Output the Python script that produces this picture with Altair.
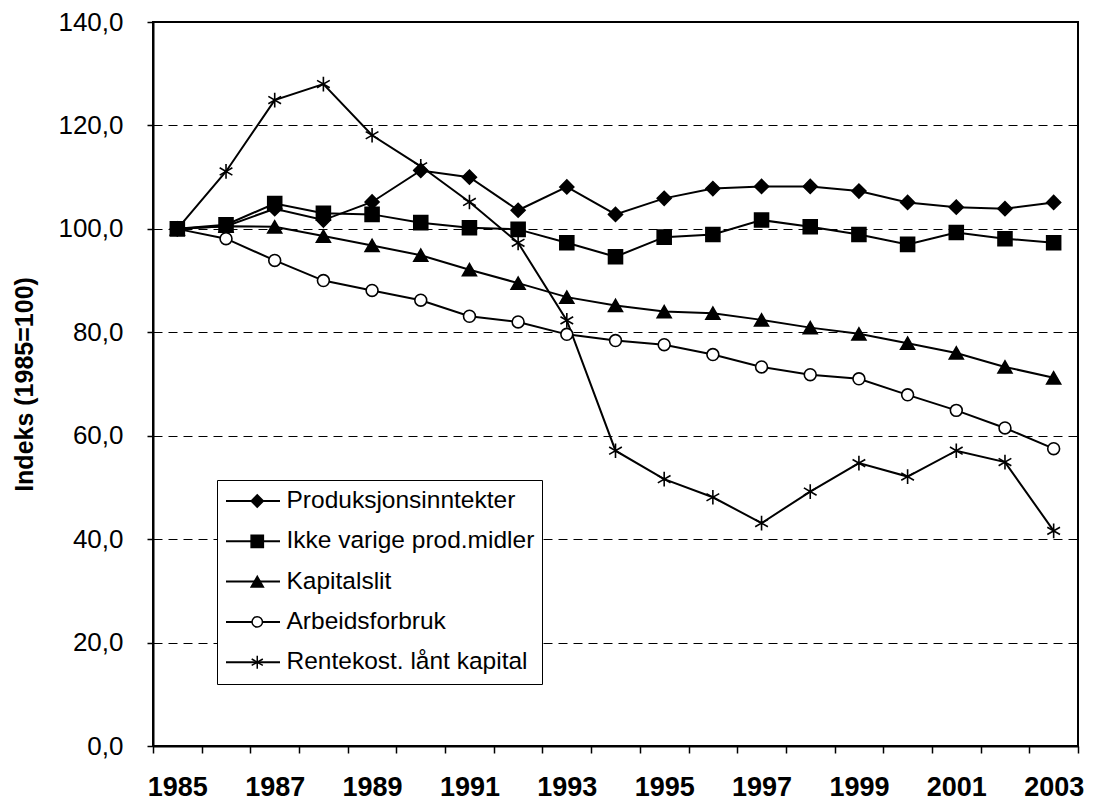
import altair as alt
import pandas as pd

years = list(range(1985, 2004))
series_names = [
    "Produksjonsinntekter",
    "Ikke varige prod.midler",
    "Kapitalslit",
    "Arbeidsforbruk",
    "Rentekost. lånt kapital",
]
produksjon = [100, 100.5, 103.9, 101.7, 105.2, 111.3, 110.0, 103.6, 108.1, 102.8,
              105.9, 107.8, 108.2, 108.2, 107.3, 105.1, 104.2, 103.9, 105.1]
ikke_varige = [100, 100.8, 104.9, 103.0, 102.8, 101.2, 100.2, 99.9, 97.3, 94.6,
               98.4, 98.9, 101.7, 100.4, 98.9, 97.0, 99.3, 98.1, 97.3]
kapitalslit = [100, 100.5, 100.4, 98.6, 96.8, 94.9, 92.1, 89.5, 86.8, 85.2,
               84.0, 83.7, 82.4, 80.9, 79.7, 77.9, 76.0, 73.3, 71.2]
arbeid = [100, 98.1, 93.9, 90.0, 88.1, 86.2, 83.1, 82.0, 79.6, 78.4,
          77.6, 75.7, 73.3, 71.8, 71.0, 67.9, 64.9, 61.5, 57.5]
rentekost = [100, 111.1, 124.9, 128.0, 118.1, 112.1, 105.2, 97.3, 82.3, 57.1,
             51.6, 48.1, 43.1, 49.2, 54.7, 52.1, 57.1, 54.9, 41.6]

y_ticks = [0, 20, 40, 60, 80, 100, 120, 140]

series_values = {
    "Produksjonsinntekter": produksjon,
    "Ikke varige prod.midler": ikke_varige,
    "Kapitalslit": kapitalslit,
    "Arbeidsforbruk": arbeid,
    "Rentekost. lånt kapital": rentekost,
}
# drawing order: squares last so they sit on top where series meet
draw_order = [
    "Produksjonsinntekter",
    "Kapitalslit",
    "Arbeidsforbruk",
    "Rentekost. lånt kapital",
    "Ikke varige prod.midler",
]

rows = []
for name in draw_order:
    for yr, v in zip(years, series_values[name]):
        rows.append({"year": yr, "value": v, "series": name, "serie_linje": name})
df = pd.DataFrame(rows)

star = "M0,-1.05L0,1.05M-0.91,-0.525L0.91,0.525M-0.91,0.525L0.91,-0.525"
small_circle = "M0.85,0A0.85,0.85,0,1,1,-0.85,0A0.85,0.85,0,1,1,0.85,0Z"
shapes = ["diamond", "square", "triangle-up", small_circle, star]
fills = ["black", "black", "black", "white", "transparent"]

FONT = "Liberation Sans"
W, H = 925, 724

boundaries = [yr - 0.5 for yr in years] + [years[-1] + 0.5]

x_enc = alt.X(
    "year:Q",
    scale=alt.Scale(domain=[boundaries[0], boundaries[-1]], nice=False, zero=False),
    axis=alt.Axis(
        values=boundaries,
        labelExpr="(floor(datum.value) + 1) % 2 == 1 && datum.value < 2003 ? toString(floor(datum.value) + 1) : ''",
        labelOffset=W / 19 / 2,
        labelFlush=False,
        labelOverlap=False,
        labelFont=FONT,
        labelFontSize=27,
        labelFontWeight="bold",
        labelColor="black",
        labelPadding=21,
        tickSize=7,
        tickColor="black",
        tickWidth=1.5,
        domainColor="black",
        domainWidth=2,
        grid=False,
        title=None,
    ),
)

y_enc = alt.Y(
    "value:Q",
    scale=alt.Scale(domain=[0, 140], nice=False, zero=True),
    axis=alt.Axis(
        values=y_ticks,
        labelExpr="replace(format(datum.value, '.1f'), '.', ',')",
        labelFont=FONT,
        labelFontSize=26,
        labelColor="black",
        labelPadding=24,
        tickSize=6,
        tickColor="black",
        tickWidth=1.5,
        domainColor="black",
        domainWidth=2,
        grid=True,
        gridColor="black",
        gridDash=[9, 6],
        gridWidth=1,
        title="Indeks (1985=100)",
        titleFont=FONT,
        titleFontSize=25,
        titleFontWeight="bold",
        titleColor="black",
        titlePadding=20,
    ),
)

CLIP_H = 26
ROW_PAD = 14.3

# legend box with the line part of each key
legend_lines = alt.Legend(
    orient="none",
    legendX=64,
    legendY=458,
    title=None,
    symbolType="stroke",
    symbolSize=2916,
    symbolStrokeWidth=2,
    clipHeight=CLIP_H,
    rowPadding=ROW_PAD,
    padding=8,
    strokeColor="black",
    fillColor="white",
    labelFont=FONT,
    labelFontSize=24.5,
    labelExpr="''",
    labelOffset=253,
    labelLimit=500,
    zindex=1,
)

# markers and texts of the legend, drawn over the box
legend_marks = alt.Legend(
    orient="none",
    legendX=92,
    legendY=466,
    title=None,
    symbolSize=150,
    symbolStrokeWidth=1.5,
    clipHeight=CLIP_H,
    rowPadding=ROW_PAD,
    padding=0,
    labelFont=FONT,
    labelFontSize=24.5,
    labelColor="black",
    labelOffset=17,
    labelLimit=500,
    zindex=2,
)

lines = alt.Chart(df).mark_line(strokeWidth=2).encode(
    x=x_enc,
    y=y_enc,
    color=alt.Color(
        "serie_linje:N",
        scale=alt.Scale(domain=list(reversed(series_names)), range=["black"] * 5),
        legend=legend_lines,
    ),
)

points = alt.Chart(df).mark_point(filled=True, strokeWidth=1.6, opacity=1, size=195).encode(
    x=x_enc,
    y=y_enc,
    shape=alt.Shape("series:N", scale=alt.Scale(domain=series_names, range=shapes), legend=legend_marks),
    fill=alt.Fill("series:N", scale=alt.Scale(domain=series_names, range=fills), legend=legend_marks),
    stroke=alt.Stroke("series:N", scale=alt.Scale(domain=series_names, range=["black"] * 5), legend=legend_marks),
)

chart = (
    alt.layer(lines, points)
    .properties(
        width=W,
        height=H,
        autosize=alt.AutoSizeParams(type="none"),
        padding={"left": 145, "top": 14, "right": 7, "bottom": 57},
        background="white",
    )
    .configure_view(stroke="black", strokeWidth=2)
)

chart.save("out.html", embed_options={"renderer": "svg", "actions": False})
